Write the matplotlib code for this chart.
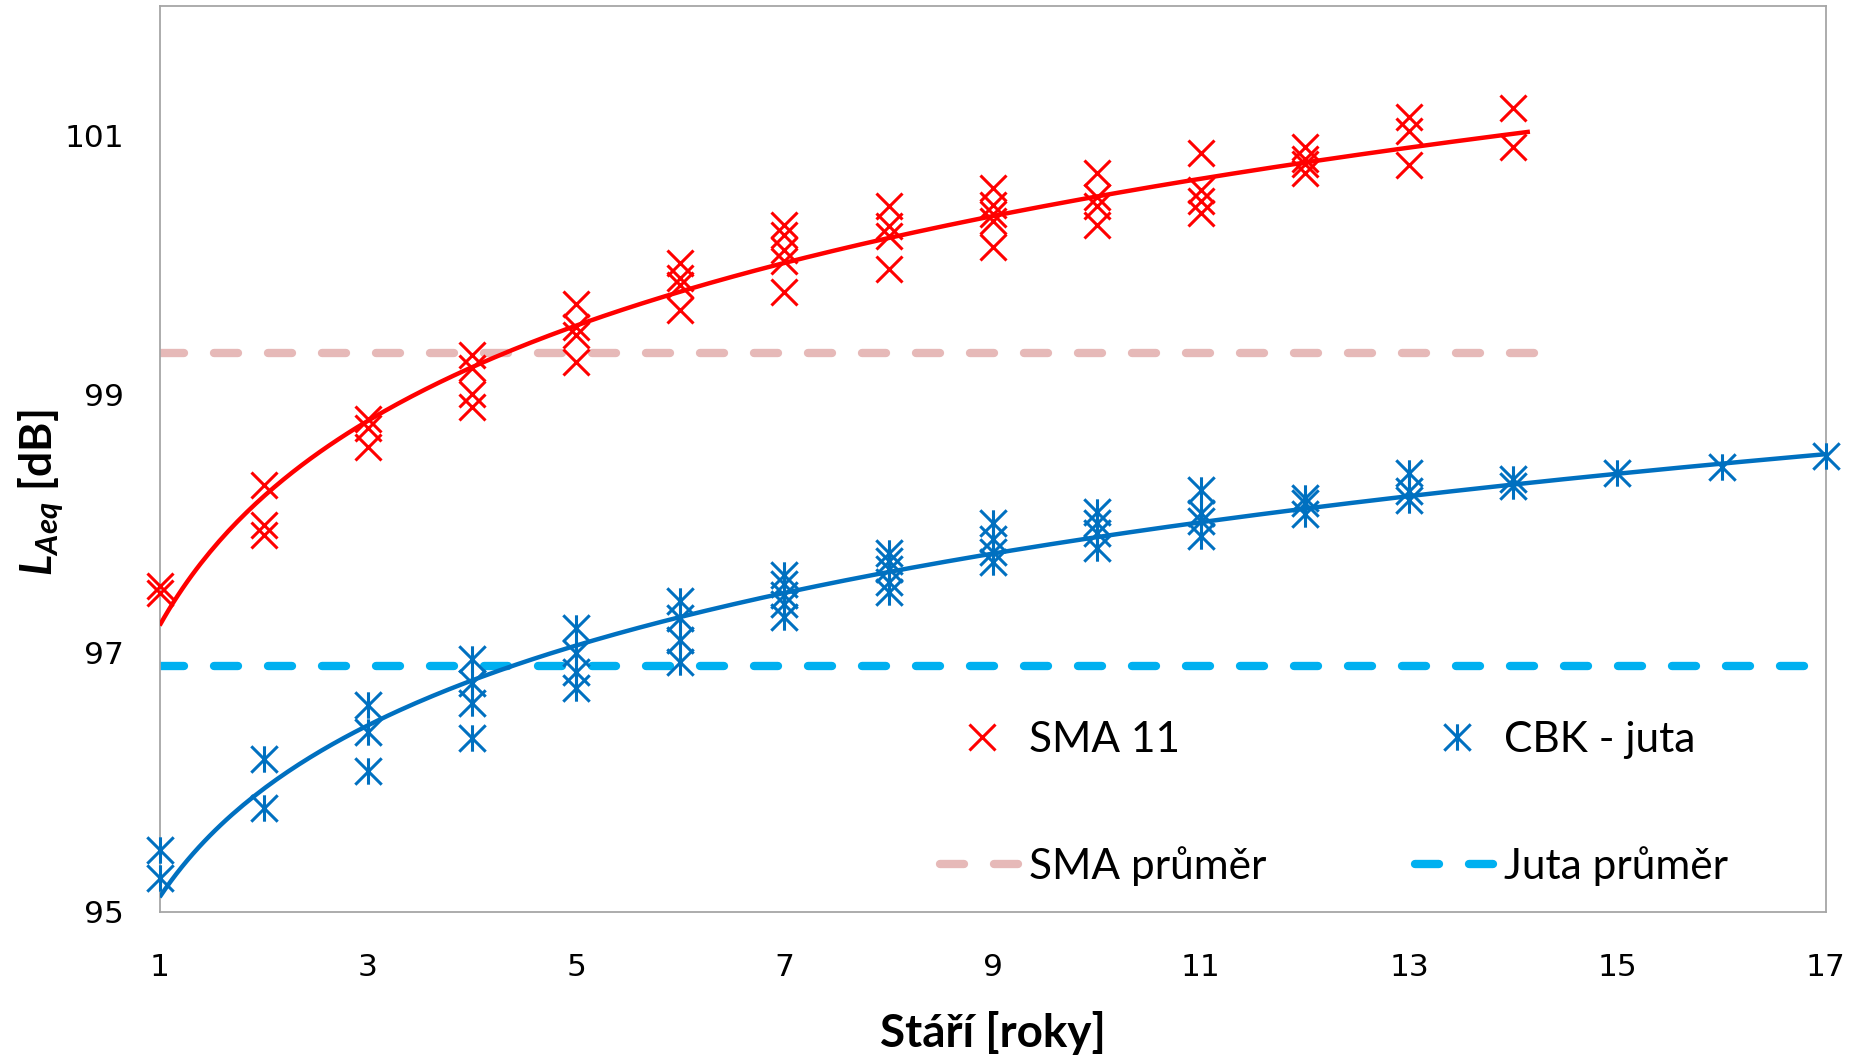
import numpy as np
import matplotlib
matplotlib.use("Agg")
import matplotlib.pyplot as plt
from matplotlib.path import Path
from matplotlib.lines import Line2D

# ---- data ----
sma_x = [1, 1,
         2, 2, 2,
         3, 3, 3,
         4, 4, 4, 4,
         5, 5, 5, 5,
         6, 6, 6, 6,
         7, 7, 7, 7, 7,
         8, 8, 8, 8,
         9, 9, 9, 9, 9,
         10, 10, 10, 10,
         11, 11, 11, 11,
         12, 12, 12, 12,
         13, 13, 13,
         14, 14]
sma_y = [97.52, 97.46,
         98.30, 97.99, 97.91,
         98.81, 98.74, 98.59,
         99.30, 99.20, 99.00, 98.90,
         99.70, 99.52, 99.46, 99.25,
         100.01, 99.90, 99.84, 99.65,
         100.31, 100.23, 100.11, 100.03, 99.79,
         100.45, 100.30, 100.22, 99.97,
         100.59, 100.46, 100.39, 100.34, 100.14,
         100.71, 100.52, 100.45, 100.31,
         100.86, 100.58, 100.49, 100.40,
         100.91, 100.82, 100.78, 100.71,
         101.14, 101.03, 100.77,
         101.21, 100.91]

cbk_x = [1, 1,
         2, 2,
         3, 3, 3,
         4, 4, 4, 4,
         5, 5, 5, 5,
         6, 6, 6, 6,
         7, 7, 7, 7, 7,
         8, 8, 8, 8, 8,
         9, 9, 9, 9,
         10, 10, 10, 10,
         11, 11, 11, 11,
         12, 12, 12,
         13, 13, 13,
         14, 14,
         15, 16, 17]
cbk_y = [95.48, 95.26,
         96.18, 95.80,
         96.60, 96.39, 96.09,
         96.95, 96.77, 96.61, 96.34,
         97.19, 97.00, 96.85, 96.73,
         97.40, 97.27, 97.10, 96.93,
         97.60, 97.53, 97.45, 97.38, 97.28,
         97.77, 97.71, 97.65, 97.55, 97.47,
         98.00, 97.88, 97.78, 97.70,
         98.09, 98.00, 97.93, 97.81,
         98.26, 98.08, 98.02, 97.90,
         98.20, 98.16, 98.07,
         98.39, 98.25, 98.18,
         98.34, 98.29,
         98.39, 98.44, 98.52]

sma_mean_x = [1, 14.2]
sma_mean_y = [99.32, 99.32]
juta_mean_x = [1, 16.8]
juta_mean_y = [96.90, 96.90]

x_ticks = [1, 3, 5, 7, 9, 11, 13, 15, 17]
y_ticks = [95, 97, 99, 101]

labels = ["SMA 11", "CBK - juta", "SMA průměr", "Juta průměr"]
x_label = "Stáří [roky]"

RED = "#FF0000"
BLUE = "#0070C0"
PINK = "#E6B9B8"
CYAN = "#00B0F0"

# asterisk marker like Excel's "star" (X with vertical bar)
star = Path([(-1, -1), (1, 1), (-1, 1), (1, -1), (0, -1), (0, 1)],
            [Path.MOVETO, Path.LINETO, Path.MOVETO, Path.LINETO, Path.MOVETO, Path.LINETO])

plt.rcParams["mathtext.fontset"] = "custom"
plt.rcParams["mathtext.rm"] = "Lato"
plt.rcParams["mathtext.it"] = "Lato:italic"
plt.rcParams["mathtext.bf"] = "Lato:bold"
plt.rcParams["mathtext.bfit"] = "Lato:italic:bold"

fig = plt.figure(figsize=(18.54, 10.56), dpi=100)
ax = fig.add_axes([0.0861, 0.1367, 0.8986, 0.8577])

lw_mean = 6.0
DASH = (2.88, 3.6)
ax.plot(sma_mean_x, sma_mean_y, color=PINK, lw=lw_mean, dashes=DASH,
        dash_capstyle="round", zorder=2)
ax.plot(juta_mean_x, juta_mean_y, color=CYAN, lw=lw_mean, dashes=DASH,
        dash_capstyle="round", zorder=2)

ax.plot(sma_x, sma_y, linestyle="none", marker="x", ms=19, mew=2.2,
        color=RED, zorder=3, clip_on=False)
ax.plot(cbk_x, cbk_y, linestyle="none", marker=star, ms=19, mew=2.2,
        color=BLUE, mec=BLUE, zorder=3, clip_on=False)

# logarithmic trendlines fitted to the data
a_r, b_r = np.polyfit(np.log(sma_x), sma_y, 1)
xr = np.linspace(1, 14.16, 300)
ax.plot(xr, a_r * np.log(xr) + b_r, color=RED, lw=3.2, zorder=4,
        solid_capstyle="butt")
a_b, b_b = np.polyfit(np.log(cbk_x), cbk_y, 1)
xb = np.linspace(1, 17, 300)
ax.plot(xb, a_b * np.log(xb) + b_b, color=BLUE, lw=3.2, zorder=4,
        solid_capstyle="butt")

ax.set_xlim(1, 17)
ax.set_ylim(95, 102)
ax.set_xticks(x_ticks)
ax.set_yticks(y_ticks)
ax.tick_params(axis="both", length=0, labelsize=22.5, colors="black")
ax.tick_params(axis="x", pad=29.5)
ax.tick_params(axis="y", pad=25.5)
for sp in ax.spines.values():
    sp.set_color("#A6A6A6")
    sp.set_linewidth(1.3)

ax.set_xlabel(x_label, fontsize=33, fontweight="bold", family="Lato", labelpad=21)
fig.text(0.022, 0.533, r"$\mathbfit{L}_{\mathbfit{Aeq}}$ [dB]", rotation=90,
         fontsize=32, fontweight="bold", family="Lato", ha="center", va="center")

h_sma = Line2D([], [], linestyle="none", marker="x", ms=19, mew=2.2, color=RED)
h_cbk = Line2D([], [], linestyle="none", marker=star, ms=19, mew=2.2, color=BLUE)
h_sm = Line2D([], [], color=PINK, lw=lw_mean, dashes=DASH, dash_capstyle="round")
h_jm = Line2D([], [], color=CYAN, lw=lw_mean, dashes=DASH, dash_capstyle="round")
leg = ax.legend([h_sma, h_sm, h_cbk, h_jm], [labels[0], labels[2], labels[1], labels[3]],
                ncol=2, frameon=False, loc="upper left",
                bbox_to_anchor=(940 / 1854, 1 - 721 / 1056),
                bbox_transform=fig.transFigure,
                prop={"family": "Lato", "size": 30.5},
                handlelength=1.96, handletextpad=0.15, columnspacing=3.5,
                labelspacing=2.05, borderpad=0, borderaxespad=0)

fig.savefig("out.png", dpi=100)
